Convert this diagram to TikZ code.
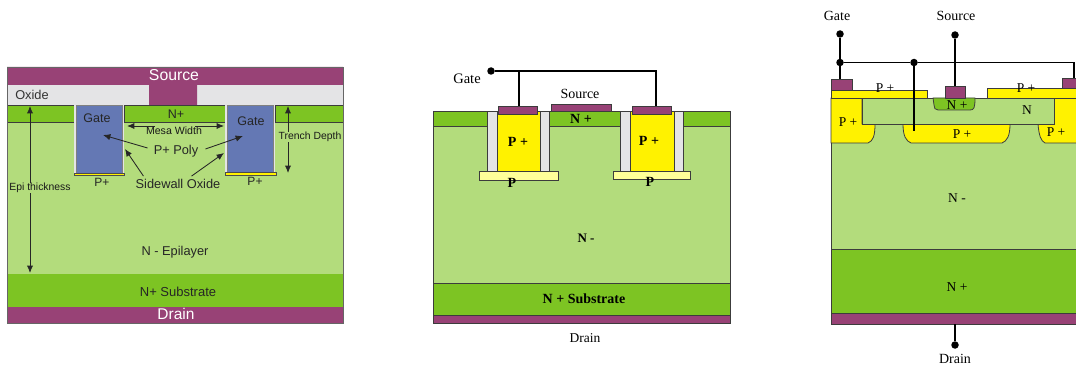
\documentclass[tikz,border=0pt]{standalone}
\usepackage{fontspec}
\setmainfont{Liberation Serif}
\setsansfont{Liberation Sans}
\usetikzlibrary{arrows.meta,calc}
\definecolor{PadPurple}{RGB}{152,66,118}
\definecolor{DopeGreen}{RGB}{125,196,35}
\definecolor{EpiGreen}{RGB}{179,220,124}
\definecolor{PolyBlue}{RGB}{100,120,180}
\definecolor{PolyYellow}{RGB}{255,242,0}
\definecolor{PaleYellow}{RGB}{255,255,153}
\definecolor{OxideGray}{RGB}{228,228,230}
\definecolor{EdgeGray}{RGB}{60,60,60}

\begin{document}
\begin{tikzpicture}[
   x=1pt,y=-1pt,
   layer/.style={draw=EdgeGray,line width=0.8pt},
   sf/.style={font=\sffamily\fontsize{#1}{#1}\selectfont,inner sep=0pt},
   rm/.style={font=\fontsize{#1}{#1}\selectfont,inner sep=0pt},
   rb/.style={font=\bfseries\fontsize{#1}{#1}\selectfont,inner sep=0pt},
   arr/.style={{Latex[length=2.6mm,width=2.2mm]}-,line width=0.85pt,black!85},
   wire/.style={line width=1.4pt,black},
   thinwire/.style={line width=1.1pt,black},
   dot/.style={circle,fill=black,inner sep=0pt,minimum size=7.5pt}]
   \useasboundingbox (0,0) rectangle (1076,366);

   \fill[EpiGreen] (7,122) rectangle (343,274);
   \fill[DopeGreen] (7,274) rectangle (343,307);
   \fill[PadPurple] (7,307) rectangle (343,323);
   \fill[OxideGray] (7,85) rectangle (343,105);
   \fill[PadPurple] (7,67) -- (343,67) -- (343,85) -- (197,85) -- (197,105) -- (149,105) -- (149,85) -- (7,85) -- cycle;
   \draw[layer,fill=DopeGreen] (7,105.5) rectangle (74,122);
   \draw[layer,fill=DopeGreen] (124,105.5) rectangle (225,122);
   \draw[layer,fill=DopeGreen] (275,105.5) rectangle (343,122);
   \fill[OxideGray] (74,105) rectangle (124,174);
   \fill[OxideGray] (225,105) rectangle (275,173);
   \draw[draw=black!50,fill=PolyBlue] (76,105.5) rectangle (122,173);
   \draw[draw=black!50,fill=PolyBlue] (227,105) rectangle (273,172);
   \draw[draw=black!70,fill=PolyYellow,line width=0.4pt] (74,173) rectangle (124,175.5);
   \draw[draw=black!70,fill=PolyYellow,line width=0.4pt] (225.5,172.5) rectangle (276,175);
   \draw[draw=black!60,line width=0.5pt] (7,67) rectangle (343,323);

   \node[sf=15.8,white] (srcA) at (174,75) {Source};
   \node[sf=12.8,black!80] (oxA) at (32,95) {Oxide};
   \node[sf=12.5,black!85] (npA) at (176,114) {N+};
   \node[sf=12.5,black!85] (gateA) at (97,118) {Gate};
   \node[sf=12.5,black!85] (gateB) at (251,121) {Gate};
   \node[sf=10.6,black!90] (mesa) at (174,131) {Mesa Width};
   \node[sf=12.8,black!85] (poly) at (176,151) {P+ Poly};
   \node[sf=12.8,black!85] (side) at (178,184) {Sidewall Oxide};
   \node[sf=12,black!85] (ppA) at (102,182) {P+};
   \node[sf=12,black!85] (ppB) at (255,181) {P+};
   \node[sf=10.4,black!90] (epi) at (40,188) {Epi thickness};
   \node[sf=10.4,black!90] (trench) at (310,137) {Trench Depth};
   \node[sf=12.8,black!85] (epiA) at (175,252) {N - Epilayer};
   \node[sf=13,black!85] (subA) at (178,292) {N+ Substrate};
   \node[sf=15.5,white] (drainA) at (176,314) {Drain};

   \coordinate (epitop) at (30,106);
   \coordinate (epibot) at (30,273);
   \coordinate (trtop) at (288,106);
   \coordinate (trbot) at (288,173);
   \coordinate (mesaL) at (127,126);
   \coordinate (mesaLs) at (155,126);
   \coordinate (mesaR) at (224,126);
   \coordinate (mesaRs) at (195,126);
   \coordinate (polyL) at (103,135);
   \coordinate (polyR) at (243,136);
   \coordinate (sideL) at (125,149);
   \coordinate (sideR) at (224,153);
   \draw[arr] (epitop) -- (epitop |- epi.north);
   \draw[arr] (epibot) -- (epibot |- epi.south);
   \draw[arr] (trtop) -- (trtop |- trench.north);
   \draw[arr] (trbot) -- (trbot |- trench.south);
   \draw[arr] (mesaL) -- (mesaLs);
   \draw[arr] (mesaR) -- (mesaRs);
   \draw[arr] (polyL) -- ($(poly.west)+(-6,-3)$);
   \draw[arr] (polyR) -- ($(poly.east)+(7,-2)$);
   \draw[arr] (sideL) -- ($(side.north west)+(8,-3)$);
   \draw[arr] (sideR) -- ($(side.north east)+(-29,-3)$);

   \fill[EpiGreen] (433,126) rectangle (730,283);
   \draw[layer,fill=DopeGreen] (433,111) rectangle (730,126);
   \draw[layer,fill=DopeGreen] (433,283) rectangle (730,315);
   \draw[layer,fill=PadPurple] (433,315) rectangle (730,323);
   \draw[layer] (433,111) -- (433,323);
   \draw[layer] (730,111) -- (730,323);
   \draw[layer,fill=OxideGray] (487,111) rectangle (549,171);
   \draw[layer,fill=PolyYellow] (497,111) rectangle (540,171);
   \draw[layer,fill=OxideGray] (620,111) rectangle (683,171);
   \draw[layer,fill=PolyYellow] (630,111) rectangle (674,171);
   \draw[layer,fill=PaleYellow] (479,171) rectangle (558,180);
   \draw[layer,fill=PaleYellow] (613,171) rectangle (690,179);
   \draw[layer,fill=PadPurple] (498,106) rectangle (537,114);
   \draw[layer,fill=PadPurple] (551,104) rectangle (611,111);
   \draw[layer,fill=PadPurple] (632,106) rectangle (671,114);

   \node[dot] (gdotB) at (491,71) {};
   \coordinate (padL) at (519,106);
   \coordinate (padR) at (656,106);
   \draw[wire] (gdotB) -- (padR |- gdotB) -- (padR);
   \draw[wire] (padL |- gdotB) -- (padL);

   \node[rm=14.5] (gateC) at (467,79) {Gate};
   \node[rm=14] (srcB) at (580,94) {Source};
   \node[rb=14] (npB) at (581,119) {N +};
   \node[rb=14] (ppC) at (518,142) {P +};
   \node[rb=14] (ppD) at (649,141) {P +};
   \node[rb=14] (pA) at (512,183) {P};
   \node[rb=14] (pB) at (650,182) {P};
   \node[rb=13] (nmB) at (586,238) {N -};
   \node[rb=14] (subB) at (584,299) {N + Substrate};
   \node[rm=13.5] (drainB) at (585,338) {Drain};

   \fill[EpiGreen] (831,98) rectangle (1076,249);
   \draw[layer,fill=DopeGreen] (831,249) rectangle (1076,313);
   \draw[layer,fill=PadPurple] (831,313) rectangle (1076,324);
   \draw[layer] (831,90) -- (831,324);
   \draw[layer,fill=PolyYellow] (831,143) -- (868,143) .. controls (873,141) and (875,136) .. (875,124) -- (862,124) -- (862,98) -- (831,98) -- cycle;
   \draw[layer,fill=PolyYellow] (903,124) .. controls (903,136) and (906,141) .. (911,143) -- (1002,143) .. controls (1007,141) and (1010,136) .. (1010,124) -- cycle;
   \draw[layer,fill=PolyYellow] (1076,143) -- (1045,143) .. controls (1041,141) and (1039,136) .. (1038,124) -- (1054,124) -- (1054,98) -- (1076,98);
   \draw[layer,fill=EpiGreen] (862,98) rectangle (1054,124);
   \draw[layer,fill=DopeGreen] (933,98) -- (934,105) .. controls (934,108) and (935,110) .. (938,110) -- (970,110) .. controls (974,110) and (975,108) .. (975,98) -- cycle;
   \draw[layer,fill=PolyYellow] (831,90) rectangle (927,98);
   \draw[layer,fill=PolyYellow] (1076,88) -- (987,88) -- (987,98) -- (1076,98);
   \draw[layer,fill=PadPurple] (831,79) rectangle (852,90);
   \draw[layer,fill=PadPurple] (1076,78) -- (1062,78) -- (1062,88) -- (1076,88);
   \draw[layer,fill=PadPurple] (945,86) rectangle (965,98);

   \coordinate (padG) at (840,79);
   \coordinate (padGR) at (1074,78);
   \coordinate (plug) at (914,131);
   \coordinate (padS) at (955,86);
   \coordinate (padD) at (955,324);
   \node[dot] (gdotC) at (840,34) {};
   \node[dot] (gdotD) at (840,62.5) {};
   \node[dot] (gdotE) at (914,62.5) {};
   \node[dot] (sdot) at (955,35) {};
   \node[dot] (ddot) at (955,345) {};
   \draw[thinwire] (gdotC) -- (gdotD);
   \draw[thinwire] (gdotD) -- (padG);
   \draw[thinwire] (gdotD) -- (gdotE);
   \draw[thinwire] (gdotE) -- (padGR |- gdotE) -- (padGR);
   \draw[thinwire] (gdotE) -- (plug);
   \draw[thinwire] (sdot) -- (padS);
   \draw[wire,line width=1.8pt] (padD) -- (ddot);

   \node[rm=14] (gateD) at (837,16) {Gate};
   \node[rm=14] (srcC) at (956,16) {Source};
   \node[rm=13.5] (ppE) at (885,88) {P +};
   \node[rm=13.5] (ppF) at (1026,88) {P +};
   \node[rm=13.5] (ppG) at (848,122) {P +};
   \node[rm=13.5] (npC) at (957,105) {N +};
   \node[rm=13.5] (nC) at (1027,110) {N};
   \node[rm=13.5] (ppH) at (962,134) {P +};
   \node[rm=13.5] (ppI) at (1056,132) {P +};
   \node[rm=13.5] (nmC) at (957,198) {N -};
   \node[rm=13.5] (npD) at (957,287) {N +};
   \node[rm=14] (drainC) at (955,359) {Drain};
\end{tikzpicture}
\end{document}
